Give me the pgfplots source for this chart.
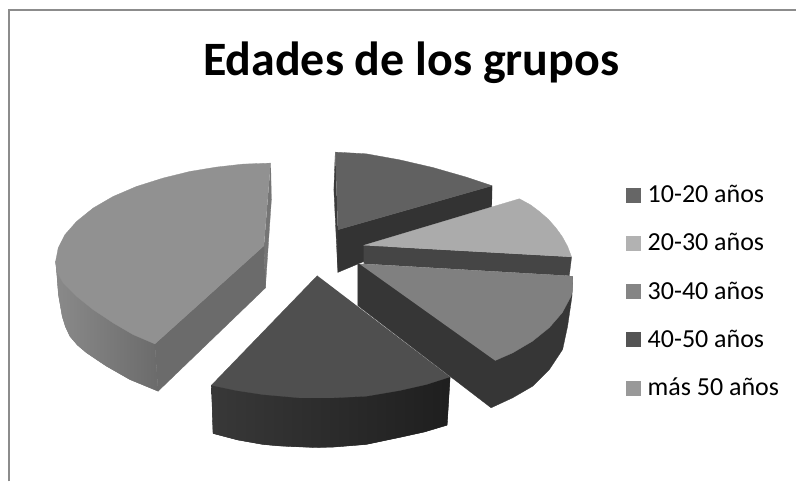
\documentclass[border=0pt]{standalone}
\usepackage{pgfplots}
\usepackage{fontspec}
\setmainfont{Carlito}
\pgfplotsset{compat=1.18}
\pgfplotsset{face/.style={forget plot,draw=#1,fill=#1,line width=0.3pt,line join=round}}
\begin{document}
\begin{tikzpicture}[x=1pt,y=1pt]
\begin{axis}[
  scale only axis, width=797pt, height=482pt,
  xmin=0, xmax=797, ymin=0, ymax=482, y dir=reverse,
  hide axis, clip=false,
  title={\fontsize{48}{50}\selectfont\bfseries Edades de los grupos},
  title style={at={(0.5165,0.8566)},anchor=center,inner sep=0pt},
  legend style={at={(0.7865,0.610)},anchor=north west,draw=none,fill=none,inner sep=0pt,outer sep=0pt,
    font=\fontsize{26}{26}\selectfont,row sep=33.3pt,
    nodes={inner sep=0pt,outer sep=0pt,text height=15pt,text depth=0pt}},
  legend cell align=left,
  legend image code/.code={\fill[draw=none,#1] (0pt,-7.5pt) rectangle (15pt,7.5pt); \path (21.5pt,0pt);},
]
% canvas (fixes the picture's extent)
\addplot[forget plot,draw=none,fill=white] coordinates {(0,0)(797,0)(797,482)(0,482)};
% border
\addplot[forget plot,draw=black!45,line width=2pt] coordinates {(9,482)(9,10.3)(797,10.3)};
% 10-20 slice
\addplot[face=black!77] coordinates {(335.7,152.3)(334.3,190)(338.3,272.7)(338.3,230)};
\addplot[face=black!80] coordinates {(338.3,230)(492.7,186)(492.3,208.3)(338.3,272.7)};
\addplot[face=black!62] coordinates {(335.7,152.3)(366.7,154)(400,160)(433.3,167.7)(466.7,177.3)(492.7,186)(338.3,230)};
% 20-30 slice
\addplot[face=black!73] coordinates {(364,245.7)(572.3,257.3)(570,276)(364,264)};
\addplot[face=black!33] coordinates {(364,245.7)(520,199)(531,205)(540,211.7)(549,219.5)(556.7,228.3)(563,237)(568.3,246.7)(572.3,257.3)};
% 30-40 slice
\addplot[face=black!79] coordinates {(358.3,264.3)(358.3,306)(491.7,408.3)(513.3,398.3)(533.3,386.7)(550,370)(563.3,350)(568.3,326.7)(572.7,296.7)(573.3,276.7)};
\addplot[face=black!50] coordinates {(360,264.3)(573.3,276.7)(573.3,290)(571.7,296.7)(563,313)(550,328)(533,341.7)(513.3,353.3)(495.7,361)};
% mas 50 slice
\addplot[face=black!54] coordinates {(271,163.3)(271.7,200)(265.7,288.3)(264.3,246)};
\addplot[face=black!52] coordinates {(55.7,261.7)(56.7,271.7)(58.5,295)(62.3,316.7)(65.5,327)(70,336.7)(77.5,345.5)(86.7,353.3)(106.7,366.7)(130,380)(158.3,391.7)(155,344.3)};
\addplot[forget plot,draw=none,left color=black!46,right color=black!58] coordinates {(55.7,261.7)(56.7,271.7)(58.5,295)(62.3,316.7)(65.5,327)(70,336.7)(77.5,345.5)(86.7,353.3)(106.7,366.7)(130,380)(158.3,391.7)(155,344.3)};
\addplot[face=black!58] coordinates {(155,344.3)(264.3,246)(265.7,288.3)(158.3,391.7)};
\addplot[face=black!43] coordinates {(271,163.3)(243.3,164.3)(216.7,167.3)(190,171.7)(163.3,178.3)(136.7,186.7)(113.3,196.7)(93.3,208.3)(76.7,221.7)(65,235)(58.3,248.3)(55.7,261.7)(56.7,271.7)(63.3,283.3)(76.7,296.7)(93.3,310)(113.3,323.3)(133.3,335)(155,344.3)(264.3,246)};
% 40-50 slice
\addplot[face=black!83] coordinates {(211.7,385.7)(213.3,434)(238,440.5)(263.3,445)(280,446.5)(296.7,447.3)(315,448)(333,447.7)(366.7,445)(400,438)(425,432.5)(447.7,425.7)(450.7,377.3)};
\addplot[forget plot,draw=none,left color=black!78,right color=black!88] coordinates {(211.7,385.7)(213.3,434)(238,440.5)(263.3,445)(280,446.5)(296.7,447.3)(315,448)(333,447.7)(366.7,445)(400,438)(425,432.5)(447.7,425.7)(450.7,377.3)};
\addplot[face=black!69] coordinates {(317.7,276)(211.7,385.7)(237,391)(263.3,395)(300,398.3)(333.3,398.3)(366.7,396.7)(400,391)(426.7,385)(450.7,377.3)};
% legend
\addlegendimage{fill=black!60}\addlegendentry{10-20 años}
\addlegendimage{fill=black!30}\addlegendentry{20-30 años}
\addlegendimage{fill=black!48}\addlegendentry{30-40 años}
\addlegendimage{fill=black!67}\addlegendentry{40-50 años}
\addlegendimage{fill=black!40}\addlegendentry{más 50 años}
\end{axis}
\end{tikzpicture}
\end{document}
